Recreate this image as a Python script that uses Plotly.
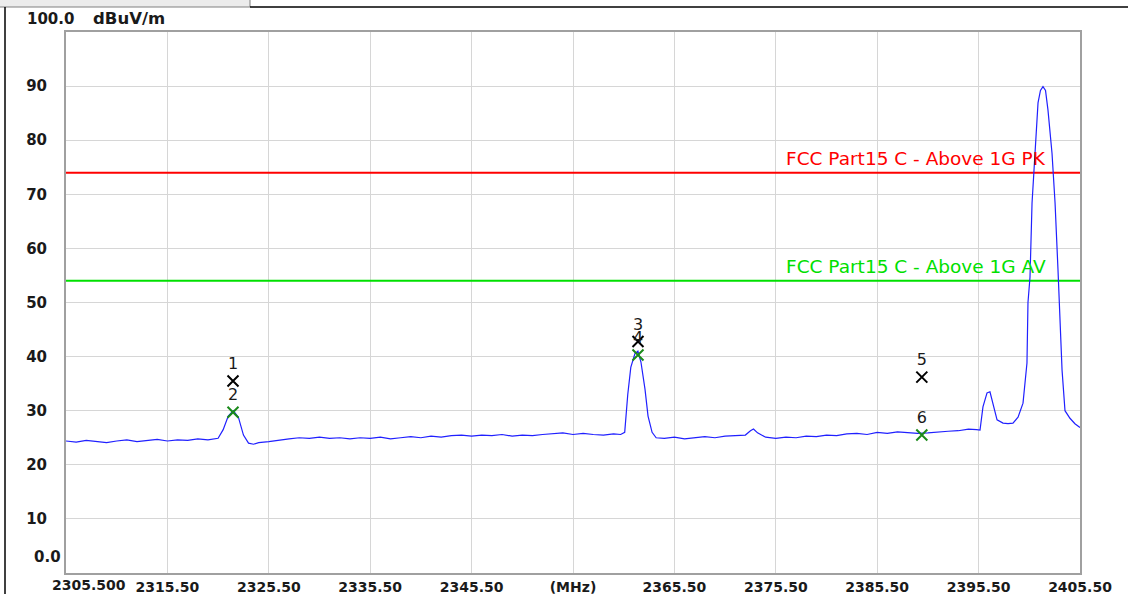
import plotly.graph_objects as go

# Spectrum trace (MHz, dBuV/m)
freq = [2305.5, 2306.5, 2307.5, 2308.5, 2309.5, 2310.5, 2311.5, 2312.5, 2313.5, 2314.5,
        2315.5, 2316.5, 2317.5, 2318.5, 2319.5, 2320.5, 2321.0, 2321.5, 2322.0, 2322.5,
        2323.0, 2323.5, 2324.0, 2324.5, 2325.5, 2326.5, 2327.5, 2328.5, 2329.5, 2330.5,
        2331.5, 2332.5, 2333.5, 2334.5, 2335.5, 2336.5, 2337.5, 2338.5, 2339.5, 2340.5,
        2341.5, 2342.5, 2343.5, 2344.5, 2345.5, 2346.5, 2347.5, 2348.5, 2349.5, 2350.5,
        2351.5, 2352.5, 2353.5, 2354.5, 2355.5, 2356.5, 2357.5, 2358.5, 2359.5, 2360.2,
        2360.6, 2360.9, 2361.2, 2361.6, 2361.9, 2362.2, 2362.6, 2362.9, 2363.3, 2363.7,
        2364.5, 2365.5, 2366.5, 2367.5, 2368.5, 2369.5, 2370.5, 2371.5, 2372.5, 2373.0,
        2373.3, 2373.7, 2374.5, 2375.5, 2376.5, 2377.5, 2378.5, 2379.5, 2380.5, 2381.5,
        2382.5, 2383.5, 2384.5, 2385.5, 2386.5, 2387.5, 2388.5, 2389.5, 2390.5, 2391.5,
        2392.5, 2393.5, 2394.5, 2395.3, 2395.64, 2395.93, 2396.33, 2396.62, 2396.92, 2397.32,
        2397.91, 2398.4, 2398.89, 2399.39, 2399.88, 2400.27, 2400.37, 2400.57, 2400.77, 2401.06,
        2401.36, 2401.6, 2401.85, 2402.1, 2402.34, 2402.74, 2403.04, 2403.33, 2403.73, 2404.02,
        2404.51, 2405.0, 2405.5]
level = [24.4, 24.2, 24.5, 24.3, 24.1, 24.4, 24.6, 24.3, 24.5, 24.7,
         24.4, 24.6, 24.5, 24.8, 24.6, 24.9, 26.5, 29.0, 30.0, 28.8,
         25.5, 24.0, 23.8, 24.1, 24.3, 24.6, 24.8, 25.0, 24.9, 25.1,
         24.9, 25.0, 24.8, 25.0, 24.9, 25.1, 24.8, 25.0, 25.2, 25.0,
         25.3, 25.1, 25.4, 25.5, 25.3, 25.5, 25.4, 25.6, 25.3, 25.5,
         25.4, 25.6, 25.8, 25.9, 25.6, 25.8, 25.6, 25.5, 25.7, 25.6,
         26.0, 33.0, 38.0, 40.5, 41.0, 39.0, 34.0, 29.0, 26.0, 25.0,
         24.9, 25.1, 24.8, 25.0, 25.2, 25.0, 25.3, 25.4, 25.5, 26.3,
         26.6, 25.9, 25.1, 24.9, 25.1, 25.0, 25.3, 25.2, 25.5, 25.4,
         25.7, 25.8, 25.6, 26.0, 25.8, 26.1, 25.9, 25.8, 25.9, 26.1,
         26.2, 26.3, 26.6, 26.5, 26.4, 30.7, 33.3, 33.5, 31.4, 28.3,
         27.7, 27.6, 27.7, 28.8, 31.4, 38.8, 50.0, 54.7, 68.4, 77.6,
         86.9, 89.2, 89.9, 89.2, 85.6, 77.6, 68.4, 56.0, 37.5, 30.0,
         28.6, 27.6, 26.9]

# Limit lines
limit_names = ["FCC Part15 C - Above 1G PK", "FCC Part15 C - Above 1G AV"]
limit_levels = [74.0, 54.0]
limit_colors = ["#ff0000", "#00e000"]

# Markers
mk_labels = ["1", "2", "3", "4", "5", "6"]
mk_freq = [2321.97, 2321.97, 2361.91, 2361.91, 2389.9, 2389.9]
mk_level = [35.5, 29.7, 42.8, 40.3, 36.2, 25.5]
mk_colors = ["#000000", "#1a8a1a", "#000000", "#1a8a1a", "#000000", "#1a8a1a"]

x_ticks = [2315.5, 2325.5, 2335.5, 2345.5, 2355.5, 2365.5, 2375.5, 2385.5, 2395.5, 2405.5]
x_ticktext = ["2315.50", "2325.50", "2335.50", "2345.50", "(MHz)", "2365.50",
              "2375.50", "2385.50", "2395.50", "2405.50"]
y_ticks = [10, 20, 30, 40, 50, 60, 70, 80, 90]
y_ticktext = ["10", "20", "30", "40", "50", "60", "70", "80", "90"]

XMIN, XMAX = 2305.5, 2405.5
FONT = "DejaVu Sans, sans-serif"
TXT = "#1a1a1a"

fig = go.Figure()

for name, lv, col in zip(limit_names, limit_levels, limit_colors):
    fig.add_trace(go.Scatter(x=[XMIN, XMAX], y=[lv, lv], mode="lines",
                             line=dict(color=col, width=2), hoverinfo="skip"))
    fig.add_annotation(x=2376.5, y=lv, xref="x", yref="y", text=name, showarrow=False,
                       xanchor="left", yanchor="bottom", yshift=2, xshift=-2,
                       font=dict(family=FONT, size=18.5, color=col))

fig.add_trace(go.Scatter(x=freq, y=level, mode="lines",
                         line=dict(color="#2020ff", width=1.2)))

fig.add_trace(go.Scatter(x=mk_freq, y=mk_level, mode="markers+text", text=mk_labels,
                         textposition="top center",
                         textfont=dict(family=FONT, size=16, color=TXT),
                         marker=dict(symbol="x-thin", size=11,
                                     line=dict(width=2, color=mk_colors)),
                         cliponaxis=False))

# y extreme labels and units
fig.add_annotation(x=(76 - 66) / 1014, y=(573 - 19) / 541, xref="paper", yref="paper",
                   text="100.0", showarrow=False, xanchor="right", yanchor="middle",
                   font=dict(family=FONT, size=15, color=TXT, weight="bold"))
fig.add_annotation(x=(91 - 66) / 1014, y=(573 - 19) / 541, xref="paper", yref="paper",
                   text="dBuV/m", showarrow=False, xanchor="left", yanchor="middle",
                   font=dict(family=FONT, size=16.5, color=TXT, weight="bold"))
fig.add_annotation(x=XMIN, y=0, xref="x", yref="y", text="0.0", showarrow=False,
                   xanchor="right", yanchor="middle", xshift=-3, yshift=16,
                   font=dict(family=FONT, size=15, color=TXT, weight="bold"))
fig.add_annotation(x=XMIN, y=0, xref="x", yref="y", text="2305.500", showarrow=False,
                   xanchor="left", yanchor="top", xshift=-16, yshift=-2,
                   font=dict(family=FONT, size=14, color=TXT, weight="bold"))

# outer window frame
fig.add_shape(type="rect", xref="paper", yref="paper", x0=-0.07, x1=(250 - 66) / 1014,
              y0=(573 - 7) / 541, y1=(573 + 2) / 541,
              line=dict(color="#808080", width=1), fillcolor="#ececec", layer="above")
fig.add_shape(type="line", xref="paper", yref="paper", x0=(250 - 66) / 1014, x1=1.06,
              y0=(573 - 7) / 541, y1=(573 - 7) / 541, line=dict(color="#000", width=1.5))
fig.add_shape(type="line", xref="paper", yref="paper", x0=(5 - 66) / 1014, x1=(5 - 66) / 1014,
              y0=(573 - 7) / 541, y1=-0.05, line=dict(color="#000", width=1.5))

fig.update_layout(
    width=1128, height=594,
    margin=dict(l=66, r=48, t=32, b=21, autoexpand=False),
    paper_bgcolor="white", plot_bgcolor="white",
    showlegend=False,
    xaxis=dict(range=[XMIN, XMAX], tickvals=x_ticks, ticktext=x_ticktext,
               showgrid=True, gridcolor="#d6d6d6", gridwidth=1,
               showline=True, mirror=True, linecolor="#a0a0a0", linewidth=2,
               ticks="", zeroline=False, automargin=False,
               tickfont=dict(family=FONT, size=14, color=TXT, weight="bold")),
    yaxis=dict(range=[0, 100], tickvals=y_ticks, ticktext=y_ticktext,
               showgrid=True, gridcolor="#d6d6d6", gridwidth=1,
               showline=True, mirror=True, linecolor="#a0a0a0", linewidth=2,
               ticks="", zeroline=False, ticklabelstandoff=14, automargin=False,
               tickfont=dict(family=FONT, size=15, color=TXT, weight="bold")),
)

fig.write_html("out.html", config={"displayModeBar": False},
               post_script="document.body.style.margin='0';document.body.style.overflow='hidden';")
